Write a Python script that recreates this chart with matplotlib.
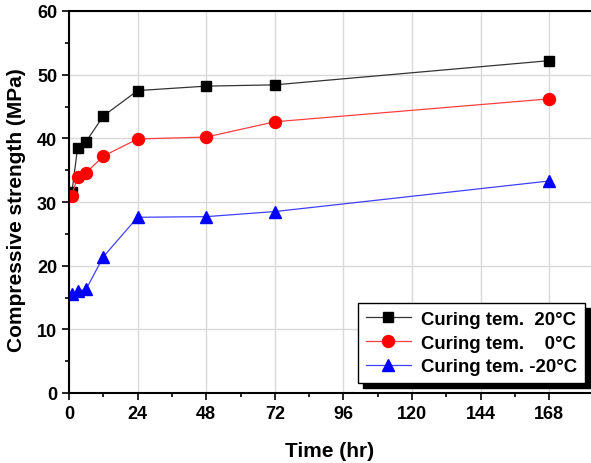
import matplotlib
matplotlib.use("Agg")
import matplotlib.pyplot as plt
from matplotlib.patches import Rectangle
from matplotlib.transforms import IdentityTransform

plt.rcParams['font.family'] = ['Liberation Sans', 'DejaVu Sans']
plt.rcParams['font.weight'] = 'bold'

time_hr = [1, 3, 6, 12, 24, 48, 72, 168]
s_20 = [31.5, 38.5, 39.5, 43.5, 47.5, 48.2, 48.4, 52.2]
s_0 = [31.0, 34.0, 34.6, 37.2, 39.9, 40.2, 42.6, 46.2]
s_m20 = [15.5, 16.0, 16.3, 21.4, 27.6, 27.7, 28.5, 33.3]
labels = ["Curing tem.  20\u00b0C", "Curing tem.    0\u00b0C", "Curing tem. -20\u00b0C"]
xticks = [0, 24, 48, 72, 96, 120, 144, 168]
yticks = [0, 10, 20, 30, 40, 50, 60]

fig = plt.figure(figsize=(5.91, 4.64), dpi=100)
ax = fig.add_axes([69/591, 1-394/464, 1-69/591, (394-12)/464])

ax.plot(time_hr, s_20, color='#333333', lw=0.9, marker='s', ms=7.8, mfc='black', mec='black', label=labels[0])
ax.plot(time_hr, s_0, color='#ff4040', lw=0.9, marker='o', ms=8.6, mfc='red', mec='red', label=labels[1])
ax.plot(time_hr, s_m20, color='#4040ff', lw=0.9, marker='^', ms=9, mfc='blue', mec='blue', label=labels[2])

ax.set_xlim(0, 182.6)
ax.set_ylim(0, 60)
ax.set_xticks(xticks)
ax.set_yticks(yticks)
ax.set_xticks(range(12, 180, 24), minor=True)
ax.set_yticks(range(5, 60, 10), minor=True)
ax.tick_params(which='major', direction='out', length=5, width=1.2, labelsize=13)
ax.tick_params(which='minor', direction='out', length=3, width=1.2)
ax.grid(True, which='major', color='#d9d9d9', lw=1)
ax.set_axisbelow(True)
for s in ['left', 'bottom', 'top']:
    ax.spines[s].set_linewidth(1.5)
ax.spines['right'].set_visible(False)

ax.set_xlabel("Time (hr)", fontsize=15, fontweight='bold', labelpad=14)
ax.set_ylabel("Compressive strength (MPa)", fontsize=15, fontweight='bold')
ax.yaxis.set_label_coords(-(69-26)/522, (394-210)/382)

leg = ax.legend(loc='lower right', bbox_to_anchor=(0.9885, 0.026), borderaxespad=0,
                fontsize=13.4, frameon=True, fancybox=False, edgecolor='black',
                facecolor='white', framealpha=1.0, handlelength=2.4,
                borderpad=0.42, labelspacing=0.36, handletextpad=0.55)
leg.get_frame().set_linewidth(1.0)
leg.set_zorder(10)

fig.canvas.draw()
bb = leg.get_frame().get_window_extent()
shadow = Rectangle((bb.x0 + 5, bb.y0 - 5), bb.width, bb.height,
                   facecolor='black', edgecolor='black', zorder=9, clip_on=False)
shadow.set_transform(IdentityTransform())
ax.add_artist(shadow)

fig.savefig("out.png", dpi=100)
